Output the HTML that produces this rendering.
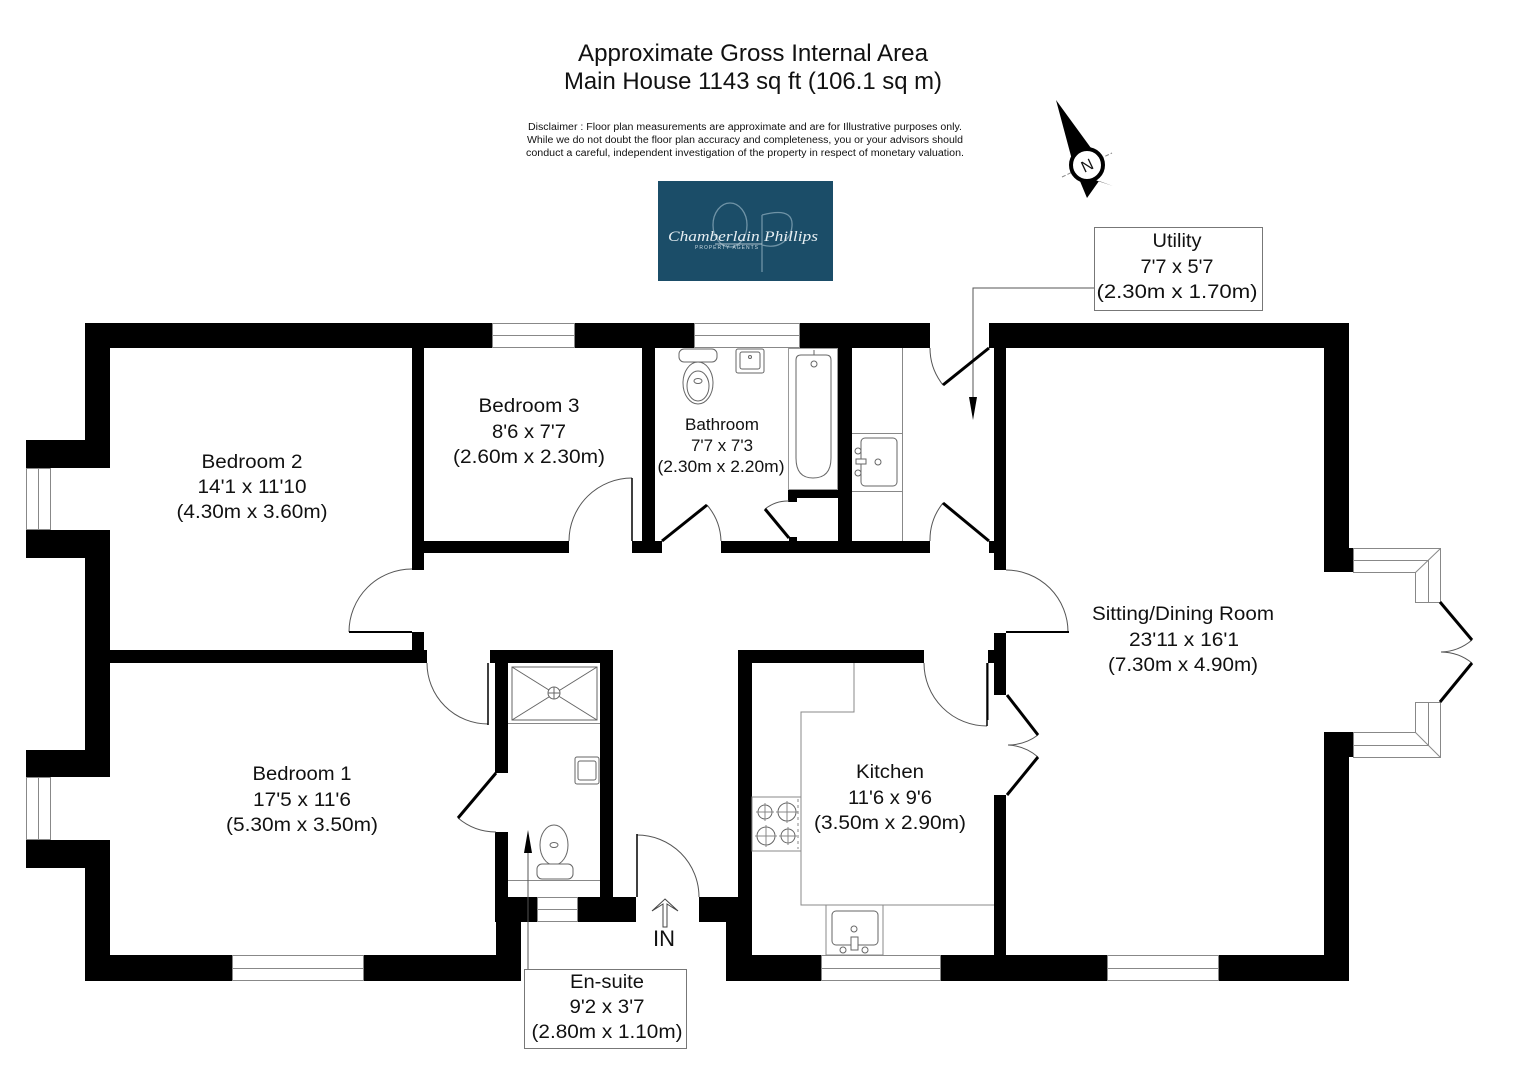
<!DOCTYPE html>
<html><head><meta charset="utf-8"><style>
html,body{margin:0;padding:0;background:#fff;}
svg{display:block;}
text{font-family:"Liberation Sans",Arial,sans-serif;fill:#111;}
</style></head><body>
<svg width="1525" height="1080" viewBox="0 0 1525 1080" xmlns="http://www.w3.org/2000/svg">
<rect width="1525" height="1080" fill="#fff"/>

<!-- Header -->
<text x="753" y="61" font-size="24.5" text-anchor="middle" textLength="350" lengthAdjust="spacingAndGlyphs">Approximate Gross Internal Area</text>
<text x="753" y="89" font-size="24.5" text-anchor="middle" textLength="378" lengthAdjust="spacingAndGlyphs">Main House 1143 sq ft (106.1 sq m)</text>
<text x="745" y="130" font-size="10" text-anchor="middle" textLength="434" lengthAdjust="spacingAndGlyphs">Disclaimer : Floor plan measurements are approximate and are for Illustrative purposes only.</text>
<text x="745" y="143" font-size="10" text-anchor="middle" textLength="436" lengthAdjust="spacingAndGlyphs">While we do not doubt the floor plan accuracy and completeness, you or your advisors should</text>
<text x="745" y="156" font-size="10" text-anchor="middle" textLength="438" lengthAdjust="spacingAndGlyphs">conduct a careful, independent investigation of the property in respect of monetary valuation.</text>

<!-- Logo -->
<rect x="658" y="181" width="175" height="100" fill="#1b4d68"/>
<ellipse cx="730" cy="225" rx="17" ry="22" fill="none" stroke="#6f93a6" stroke-width="1.3"/>
<path d="M762 215 V272 M762 215 Q800 205 790 235 Q780 250 762 245" fill="none" stroke="#6f93a6" stroke-width="1.3"/>
<text x="743" y="241" font-size="15" font-style="italic" text-anchor="middle" textLength="150" lengthAdjust="spacingAndGlyphs" style="fill:#e6eef2;font-family:'Liberation Serif',serif">Chamberlain Phillips</text>
<line x1="715" y1="244" x2="762" y2="244" stroke="#dfe9ee" stroke-width="0.8"/>
<text x="727" y="249" font-size="5" text-anchor="middle" letter-spacing="1" style="fill:#c9d8e0">PROPERTY AGENTS</text>

<!-- Compass -->
<line x1="1062" y1="177" x2="1112" y2="153" stroke="#888" stroke-width="1" stroke-dasharray="4,2"/>
<polygon points="1056,100 1099,159 1075,171" fill="#000"/>
<polygon points="1077,174 1113,186 1099,181 1087,198" fill="#000"/>
<circle cx="1087" cy="165" r="16" fill="#fff" stroke="#000" stroke-width="4"/>
<text x="1087" y="171" font-size="16" text-anchor="middle" transform="rotate(-25 1087 165)">N</text>

<!-- Utility label -->
<rect x="1094.5" y="227.5" width="168" height="83" fill="#fff" stroke="#777" stroke-width="1"/>
<text x="1177" y="247" font-size="19" text-anchor="middle" textLength="49" lengthAdjust="spacingAndGlyphs">Utility</text>
<text x="1177" y="273" font-size="19" text-anchor="middle" textLength="73" lengthAdjust="spacingAndGlyphs">7'7 x 5'7</text>
<text x="1177" y="298" font-size="19" text-anchor="middle" textLength="161" lengthAdjust="spacingAndGlyphs">(2.30m x 1.70m)</text>
<polyline points="1094,288 973,288 973,400" fill="none" stroke="#555" stroke-width="1"/>
<polygon points="969,397 977,397 973,420" fill="#000"/>

<!-- WALLS -->
<g fill="#000">
<!-- top -->
<rect x="85" y="323" width="407" height="25"/>
<rect x="575" y="323" width="119" height="25"/>
<rect x="800" y="323" width="130" height="25"/>
<rect x="989" y="323" width="360" height="25"/>
<!-- left -->
<rect x="85" y="323" width="25" height="117"/>
<rect x="26" y="440" width="84" height="28"/>
<rect x="26" y="530" width="84" height="28"/>
<rect x="85" y="558" width="25" height="192"/>
<rect x="26" y="750" width="84" height="27"/>
<rect x="26" y="840" width="84" height="28"/>
<rect x="85" y="868" width="25" height="113"/>
<!-- bottom -->
<rect x="85" y="955" width="147" height="26"/>
<rect x="364" y="955" width="157" height="26"/>
<rect x="495" y="897" width="42" height="25"/>
<rect x="496" y="922" width="25" height="59"/>
<rect x="578" y="897" width="58" height="25"/>
<rect x="699" y="897" width="53" height="25"/>
<rect x="726" y="922" width="26" height="59"/>
<rect x="726" y="955" width="95" height="26"/>
<rect x="941" y="955" width="166" height="26"/>
<rect x="1219" y="955" width="130" height="26"/>
<!-- right -->
<rect x="1324" y="323" width="25" height="249"/>
<rect x="1324" y="548" width="29" height="24"/>
<rect x="1324" y="732" width="29" height="25"/>
<rect x="1324" y="732" width="25" height="249"/>
<!-- internal -->
<rect x="412" y="348" width="12" height="222"/>
<rect x="412" y="632" width="12" height="18"/>
<rect x="110" y="650" width="317" height="13"/>
<rect x="424" y="541" width="145" height="12"/>
<rect x="632" y="541" width="30" height="12"/>
<rect x="642" y="348" width="13" height="193"/>
<rect x="721" y="541" width="209" height="12"/>
<rect x="838" y="348" width="14" height="193"/>
<rect x="788" y="490" width="52" height="8"/>
<rect x="788" y="498" width="9" height="4"/>
<rect x="789" y="537" width="8" height="4"/>
<rect x="989" y="541" width="17" height="12"/>
<rect x="994" y="348" width="12" height="222"/>
<rect x="994" y="633" width="12" height="62"/>
<rect x="988" y="650" width="6" height="13"/>
<rect x="994" y="795" width="12" height="160"/>
<rect x="738" y="650" width="186" height="13"/>
<rect x="738" y="650" width="14" height="247"/>
<rect x="490" y="650" width="123" height="13"/>
<rect x="495" y="650" width="13" height="123"/>
<rect x="495" y="832" width="13" height="65"/>
<rect x="600" y="650" width="13" height="247"/>
</g>

<!-- WINDOWS -->
<g fill="#fff" stroke="#888" stroke-width="1">
<rect x="492.5" y="323.5" width="82" height="24"/><line x1="492" y1="335.5" x2="575" y2="335.5"/>
<rect x="694.5" y="323.5" width="105" height="24"/><line x1="694" y1="335.5" x2="800" y2="335.5"/>
<rect x="26.5" y="468.5" width="24" height="61"/><line x1="38.5" y1="468" x2="38.5" y2="530"/>
<rect x="26.5" y="777.5" width="24" height="62"/><line x1="38.5" y1="777" x2="38.5" y2="840"/>
<rect x="232.5" y="955.5" width="131" height="25"/><line x1="232" y1="968.5" x2="364" y2="968.5"/>
<rect x="537.5" y="897.5" width="40" height="24"/><line x1="537" y1="909.5" x2="578" y2="909.5"/>
<rect x="821.5" y="955.5" width="119" height="25"/><line x1="821" y1="968.5" x2="941" y2="968.5"/>
<rect x="1107.5" y="955.5" width="111" height="25"/><line x1="1107" y1="968.5" x2="1219" y2="968.5"/>
</g>
<!-- right bay window -->
<g fill="none" stroke="#888" stroke-width="1">
<polyline points="1353,548.5 1440.5,548.5 1440.5,602.5 1415.5,602.5 1415.5,572.5 1353,572.5"/>
<polyline points="1353,560.5 1428.5,560.5 1428.5,602"/>
<line x1="1415.5" y1="572.5" x2="1440.5" y2="548.5"/>
<line x1="1353.5" y1="548" x2="1353.5" y2="572"/>
<polyline points="1353,757.5 1440.5,757.5 1440.5,702.5 1415.5,702.5 1415.5,732.5 1353,732.5"/>
<polyline points="1353,745.5 1428.5,745.5 1428.5,702"/>
<line x1="1415.5" y1="732.5" x2="1440.5" y2="757.5"/>
<line x1="1353.5" y1="732" x2="1353.5" y2="757"/>
</g>

<!-- DOOR ARCS -->
<g fill="none" stroke="#555" stroke-width="1">
<path d="M349,632 A63,63 0 0 1 412,569"/>
<path d="M632,478 A63,63 0 0 0 569,541"/>
<path d="M427,663 A61,61 0 0 0 488,724"/>
<path d="M458,818 A59,59 0 0 0 496,832"/>
<path d="M707,505 A58,58 0 0 1 721,541"/>
<path d="M765,509 A37,37 0 0 1 789,501"/>
<path d="M943,385 A59,59 0 0 1 930,348"/>
<path d="M943,503 A59,59 0 0 0 930,541"/>
<path d="M1006,570 A62,62 0 0 1 1068,632"/>
<path d="M924,663 A63,63 0 0 0 987,726"/>
<path d="M637,835 A62,62 0 0 1 699,897"/>
<path d="M1038,735 A50,50 0 0 1 1008,745"/>
<path d="M1008,745 A50,50 0 0 1 1038,757"/>
<path d="M1472,640 A50,50 0 0 1 1441,652"/>
<path d="M1441,652 A50,50 0 0 1 1472,663"/>
</g>
<!-- DOOR LEAVES -->
<g stroke="#000" fill="none">
<line x1="349" y1="632" x2="412" y2="632" stroke-width="2"/>
<line x1="632" y1="478" x2="632" y2="541" stroke-width="1.5"/>
<line x1="488" y1="663" x2="488" y2="725" stroke-width="1.5"/>
<line x1="637" y1="834" x2="637" y2="897" stroke-width="1.5"/>
<line x1="1006" y1="632" x2="1069" y2="632" stroke-width="2"/>
<line x1="987" y1="663" x2="987" y2="726" stroke-width="1.5"/>
<line x1="988" y1="663" x2="988" y2="720" stroke-width="1"/>
<g stroke-width="3">
<line x1="496" y1="773" x2="458" y2="818"/>
<line x1="662" y1="541" x2="707" y2="505"/>
<line x1="789" y1="538" x2="765" y2="509"/>
<line x1="989" y1="348" x2="943" y2="385"/>
<line x1="989" y1="541" x2="943" y2="503"/>
<line x1="1007" y1="695" x2="1038" y2="735"/>
<line x1="1007" y1="795" x2="1038" y2="757"/>
<line x1="1440" y1="602" x2="1472" y2="640"/>
<line x1="1440" y1="702" x2="1472" y2="663"/>
</g>
</g>

<!-- FIXTURES -->
<g fill="#fff" stroke="#666" stroke-width="1">
<!-- bathroom toilet -->
<rect x="679" y="349" width="38" height="13" rx="5"/>
<ellipse cx="698" cy="383" rx="15" ry="21"/>
<ellipse cx="698" cy="386" rx="11" ry="15"/>
<ellipse cx="698" cy="381" rx="4" ry="2.5"/>
<!-- bathroom sink -->
<rect x="736" y="349" width="28" height="24" rx="2"/>
<rect x="740" y="352" width="20" height="17" rx="2"/>
<circle cx="750" cy="357" r="1.5"/>
<!-- bath -->
<rect x="788.5" y="348.5" width="49" height="141" stroke="#999"/>
<path d="M796,360 Q796,355 801,355 L826,355 Q831,355 831,360 L831,458 Q831,478 813,478 Q796,478 796,458 Z"/>
<circle cx="814" cy="364" r="3"/>
<line x1="814" y1="350" x2="814" y2="355"/>
<!-- utility -->
<line x1="902.5" y1="348" x2="902.5" y2="541" stroke="#888"/>
<line x1="852" y1="433.5" x2="902" y2="433.5" stroke="#888"/>
<line x1="852" y1="491.5" x2="902" y2="491.5" stroke="#888"/>
<rect x="861" y="438" width="36" height="48" rx="4"/>
<circle cx="858" cy="451" r="3"/><circle cx="858" cy="473" r="3"/><circle cx="878" cy="462" r="3"/>
<rect x="856" y="459" width="10" height="5"/>
<!-- ensuite -->
<rect x="512" y="667" width="85" height="53"/>
<line x1="512" y1="667" x2="597" y2="720"/>
<line x1="597" y1="667" x2="512" y2="720"/>
<circle cx="554" cy="693" r="6"/>
<line x1="548" y1="693" x2="560" y2="693"/><line x1="554" y1="687" x2="554" y2="699"/>
<line x1="508" y1="723.5" x2="600" y2="723.5" stroke="#888"/>
<rect x="575" y="757" width="24" height="27" rx="2"/>
<rect x="578" y="761" width="18" height="19" rx="2"/>
<ellipse cx="554" cy="845" rx="14" ry="20"/>
<ellipse cx="554" cy="845" rx="4" ry="2.5"/>
<rect x="537" y="864" width="36" height="15" rx="5"/>
<line x1="508" y1="880.5" x2="600" y2="880.5" stroke="#888"/>
<!-- kitchen -->
<polyline points="854,663 854,712 801,712 801,905 994,905" fill="none" stroke="#888"/>
<rect x="752" y="797" width="49" height="54" stroke="#888"/>
<circle cx="765" cy="812" r="7"/><circle cx="787" cy="812" r="9"/>
<circle cx="766" cy="836" r="9"/><circle cx="788" cy="836" r="7"/>
<g stroke="#888"><line x1="765" y1="803" x2="765" y2="821"/><line x1="756" y1="812" x2="774" y2="812"/>
<line x1="787" y1="801" x2="787" y2="823"/><line x1="776" y1="812" x2="798" y2="812"/>
<line x1="766" y1="825" x2="766" y2="847"/><line x1="755" y1="836" x2="777" y2="836"/>
<line x1="788" y1="827" x2="788" y2="845"/><line x1="779" y1="836" x2="797" y2="836"/>
<line x1="798" y1="799" x2="798" y2="849" stroke-dasharray="3,3"/></g>
<rect x="826" y="905" width="57" height="50" stroke="#888"/>
<rect x="832" y="911" width="46" height="34" rx="4"/>
<circle cx="854" cy="929" r="3"/><circle cx="843" cy="950" r="3"/><circle cx="865" cy="950" r="3"/>
<rect x="851" y="937" width="7" height="13"/>
</g>

<!-- En-suite label + arrow -->
<line x1="528" y1="969" x2="528" y2="850" stroke="#555" stroke-width="1"/>
<polygon points="524,853 532,853 528,830" fill="#000"/>
<rect x="524.5" y="969.5" width="162" height="79" fill="#fff" stroke="#777" stroke-width="1"/>
<text x="607" y="988" font-size="19" text-anchor="middle" textLength="74" lengthAdjust="spacingAndGlyphs">En-suite</text>
<text x="607" y="1013" font-size="19" text-anchor="middle" textLength="75" lengthAdjust="spacingAndGlyphs">9'2 x 3'7</text>
<text x="607" y="1038" font-size="19" text-anchor="middle" textLength="151" lengthAdjust="spacingAndGlyphs">(2.80m x 1.10m)</text>

<!-- IN arrow -->
<polygon points="665,899 678,911 667,904 667,927 663,927 663,904 652,911" fill="#fff" stroke="#444" stroke-width="1"/>
<text x="664" y="946" font-size="22" text-anchor="middle" textLength="22" lengthAdjust="spacingAndGlyphs">IN</text>

<!-- ROOM LABELS -->
<g font-size="19" text-anchor="middle">
<text x="252" y="468" textLength="101" lengthAdjust="spacingAndGlyphs">Bedroom 2</text>
<text x="252" y="493" textLength="109" lengthAdjust="spacingAndGlyphs">14'1 x 11'10</text>
<text x="252" y="518" textLength="151" lengthAdjust="spacingAndGlyphs">(4.30m x 3.60m)</text>

<text x="529" y="412" textLength="101" lengthAdjust="spacingAndGlyphs">Bedroom 3</text>
<text x="529" y="438" textLength="74" lengthAdjust="spacingAndGlyphs">8'6 x 7'7</text>
<text x="529" y="463" textLength="152" lengthAdjust="spacingAndGlyphs">(2.60m x 2.30m)</text>

<text x="302" y="780" textLength="99" lengthAdjust="spacingAndGlyphs">Bedroom 1</text>
<text x="302" y="806" textLength="98" lengthAdjust="spacingAndGlyphs">17'5 x 11'6</text>
<text x="302" y="831" textLength="152" lengthAdjust="spacingAndGlyphs">(5.30m x 3.50m)</text>

<text x="890" y="778" textLength="68" lengthAdjust="spacingAndGlyphs">Kitchen</text>
<text x="890" y="804" textLength="84" lengthAdjust="spacingAndGlyphs">11'6 x 9'6</text>
<text x="890" y="829" textLength="152" lengthAdjust="spacingAndGlyphs">(3.50m x 2.90m)</text>

<text x="1183" y="620" textLength="182" lengthAdjust="spacingAndGlyphs">Sitting/Dining Room</text>
<text x="1184" y="646" textLength="110" lengthAdjust="spacingAndGlyphs">23'11 x 16'1</text>
<text x="1183" y="671" textLength="150" lengthAdjust="spacingAndGlyphs">(7.30m x 4.90m)</text>
</g>
<g font-size="17" text-anchor="middle">
<text x="722" y="430" textLength="74" lengthAdjust="spacingAndGlyphs">Bathroom</text>
<text x="722" y="451" textLength="62" lengthAdjust="spacingAndGlyphs">7'7 x 7'3</text>
<text x="721" y="472" textLength="127" lengthAdjust="spacingAndGlyphs">(2.30m x 2.20m)</text>
</g>
</svg>
</body></html>
